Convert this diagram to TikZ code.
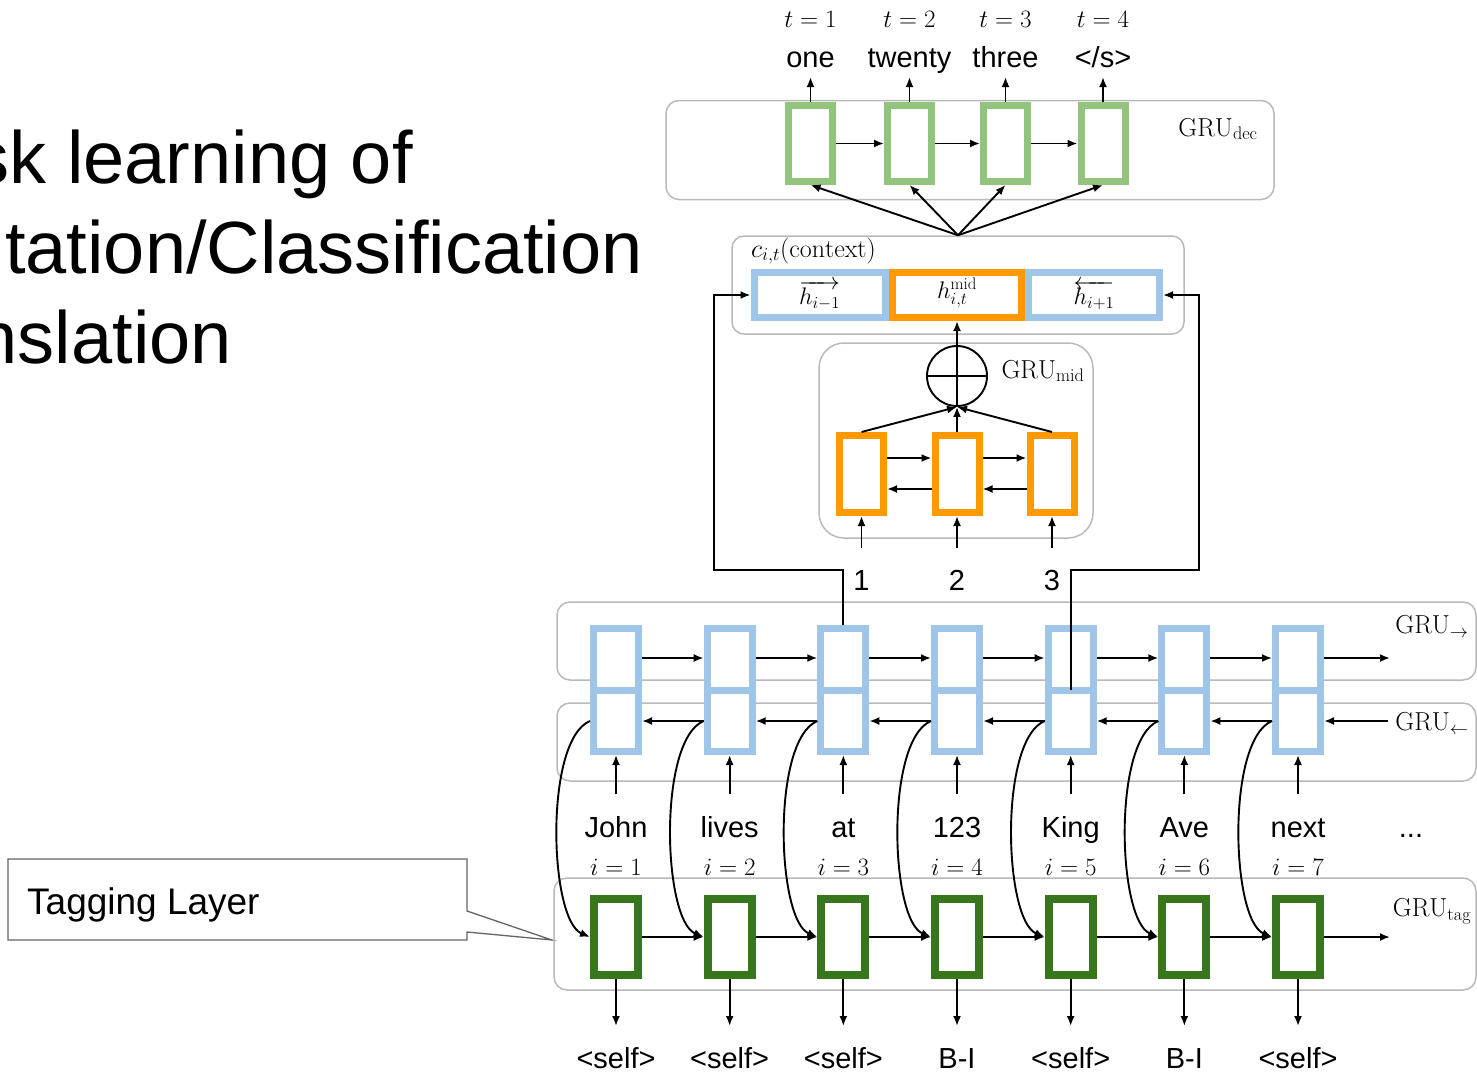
\RequirePackage{fix-cm}
\documentclass[tikz,border=0pt]{standalone}
\usepackage{fontspec}
\newfontfamily\arial{Liberation Sans}
\usetikzlibrary{arrows.meta,calc}
\definecolor{lgreen}{RGB}{147,196,125}
\definecolor{dgreen}{RGB}{56,118,29}
\definecolor{lblue}{RGB}{159,197,232}
\definecolor{orng}{RGB}{255,153,0}
\definecolor{boxgray}{RGB}{185,185,185}
\definecolor{callgray}{RGB}{100,100,100}
\begin{document}
\begin{tikzpicture}[x=1pt,y=-1pt,
  >={Latex[length=10pt,width=8pt]},
  arr/.style={->,line width=1.9pt},
  grp/.style={draw=boxgray,line width=1.5pt,rounded corners=13pt,inner sep=0pt},
  cellbase/.style={draw,line width=7pt,inner sep=0pt,fill=white},
  dcell/.style={cellbase,draw=lgreen,minimum width=44pt,minimum height=76pt},
  ocell/.style={cellbase,draw=orng,minimum width=44pt,minimum height=77pt},
  ecell/.style={cellbase,draw=lblue,minimum width=45pt,minimum height=123pt},
  tcell/.style={cellbase,draw=dgreen,line width=8pt,minimum width=44pt,minimum height=76pt},
  word/.style={font=\arial\fontsize{29}{33}\selectfont,inner sep=0pt,anchor=base},
  mlab/.style={font=\fontsize{25}{29}\selectfont,inner sep=0pt,anchor=base},
  glab/.style={font=\fontsize{26}{30}\selectfont,inner sep=0pt},
  title/.style={font=\arial\fontsize{74}{88}\selectfont,inner sep=0pt,anchor=base east}
]
\useasboundingbox (0,0) rectangle (1477,1073);
\clip (0,0) rectangle (1477,1073);

% ---------- title ----------
\node[title] (ti1) at (413,183) {sk learning of};
\node[title] (ti2) at (643,273) {tation/Classification};
\node[title] (ti3) at (232,363) {nslation};

% ---------- callout ----------
\coordinate (ctip) at (552,940);
\draw[draw=callgray,line width=1.3pt,fill=white] (8,859) -- (467,859) -- (467,911) -- (ctip) -- (467,932) -- (467,940) -- (8,940) -- cycle;
\node[font=\arial\fontsize{37}{41}\selectfont,inner sep=0pt,anchor=base west] (callt) at (27,914) {Tagging Layer};

% ---------- group boxes ----------
\node[grp,minimum width=608pt,minimum height=99pt] (dbox) at (970,150) {};
\node[grp,rounded corners=12pt,minimum width=452pt,minimum height=98pt] (ctx) at (958,285) {};
\node[grp,rounded corners=25pt,minimum width=274pt,minimum height=195pt] (gmid) at (956,440.5) {};
\node[grp,minimum width=919pt,minimum height=78pt] (fbox) at (1016.5,641) {};
\node[grp,minimum width=919pt,minimum height=78pt] (bbox) at (1016.5,742) {};
\node[grp,minimum width=922pt,minimum height=112pt] (tbox) at (1015,934) {};

% ---------- group labels ----------
\node[glab] (ldec) at (1218,129) {$\mathrm{GRU}_{\mathrm{dec}}$};
\node[glab,anchor=base west] (lctx) at (751,257) {$c_{i,t}(\mathrm{context})$};
\node[glab] (lmid) at (1043,371) {$\mathrm{GRU}_{\mathrm{mid}}$};
\node[glab] (lfw) at (1432,626) {$\mathrm{GRU}_{\rightarrow}$};
\node[glab] (lbw) at (1432,723) {$\mathrm{GRU}_{\leftarrow}$};
\node[glab] (ltag) at (1432,911) {$\mathrm{GRU}_{\mathrm{tag}}$};

% ---------- decoder ----------
\foreach \n/\x/\w in {1/810.5/one,2/909.5/twenty,3/1005.5/three,4/1103/{</s>}}{
  \node[dcell] (d\n) at (\x,143.5) {};
  \node[word] (dw\n) at (\x,67) {\w};
  \node[mlab] (dt\n) at (\x,28) {$t=\n$};
  \coordinate (do\n) at (\x,77);
  \draw[arr] (d\n.north) -- (do\n);
  \draw[arr] (ctx.north) -- (d\n.south);
}
\foreach \a/\b in {1/2,2/3,3/4}{
  \draw[arr] (d\a.east) -- (d\b.west);
}

% ---------- context cells ----------
\node[cellbase,draw=lblue,minimum width=131pt,minimum height=45pt] (cl) at (819.5,295) {};
\node[cellbase,draw=lblue,minimum width=131pt,minimum height=45pt] (cr) at (1094,295) {};
\node[cellbase,draw=orng,minimum width=129pt,minimum height=45pt] (cm) at (957,295) {};
\node[glab,font=\fontsize{24}{28}\selectfont] (tcl) at (819.5,295) {$\overrightarrow{h_{i-1}}$};
\node[glab,font=\fontsize{24}{28}\selectfont] (tcm) at (957,293) {$h^{\mathrm{mid}}_{i,t}$};
\node[glab,font=\fontsize{24}{28}\selectfont] (tcr) at (1094,295) {$\overleftarrow{h_{i+1}}$};

% ---------- mid GRU ----------
\node[circle,draw,line width=1.9pt,minimum size=60pt,inner sep=0pt] (plus) at (957,376) {};
\draw[line width=1.9pt] (plus.west) -- (plus.east);
\draw[arr] (plus.south) -- (cm.south);
\foreach \n/\x in {1/861.5,2/957,3/1052}{
  \node[ocell] (m\n) at (\x,474) {};
  \node[word] (num\n) at (\x,590) {\n};
  \coordinate (mi\n) at (\x,548);
  \draw[arr] (mi\n) -- (m\n.south);
  \draw[arr] (m\n.north) -- (plus.south);
}
\foreach \a/\b in {1/2,2/3}{
  \draw[arr] ($(m\a.east)+(0,-16)$) -- ($(m\b.west)+(0,-16)$);
  \draw[arr] ($(m\b.west)+(0,15)$) -- ($(m\a.east)+(0,15)$);
}

% ---------- encoder and tagger ----------
\foreach \i/\w/\o in {1/John/{<self>},2/lives/{<self>},3/at/{<self>},4/123/B-I,5/King/{<self>},6/Ave/B-I,7/next/{<self>}}{
  \pgfmathsetmacro{\x}{616+113.67*(\i-1)}
  \node[ecell] (e\i) at (\x,690) {};
  \draw[lblue,line width=7pt] (e\i.west |- 0,690) -- (e\i.east |- 0,690);
  \node[tcell] (t\i) at (\x,937) {};
  \node[word] (w\i) at (\x,837) {\w};
  \node[mlab] (il\i) at (\x,875) {$i=\i$};
  \node[word] (ot\i) at (\x,1068) {\o};
  \coordinate (wi\i) at (\x,794);
  \coordinate (to\i) at (\x,1026);
  \draw[arr] (wi\i) -- (e\i.south);
  \draw[arr] (t\i.south) -- (to\i);
  \draw[arr] ($(e\i.west)+(0,31)$) .. controls +(-46,19) and +(-41,-17) .. (t\i.west);
}
\node[word] (w8) at (1411,837) {...};
\foreach \a/\b in {1/2,2/3,3/4,4/5,5/6,6/7}{
  \draw[arr] ($(e\a.east)+(0,-32)$) -- ($(e\b.west)+(0,-32)$);
  \draw[arr] ($(e\b.west)+(0,31)$) -- ($(e\a.east)+(0,31)$);
  \draw[arr] (t\a.east) -- (t\b.west);
}
\coordinate (fo) at (1390,658);
\coordinate (bi) at (1388,721);
\coordinate (tgo) at (1390,937);
\draw[arr] ($(e7.east)+(0,-32)$) -- (fo);
\draw[arr] (bi) -- ($(e7.east)+(0,31)$);
\draw[arr] (t7.east) -- (tgo);

% ---------- links to context ----------
\coordinate (lk) at (714,570);
\coordinate (rk) at (1199,570);
\draw[arr] (e3.north) |- (lk) |- (cl.west);
\draw[arr] (e5.center) |- (rk) |- (cr.east);
\end{tikzpicture}
\end{document}
